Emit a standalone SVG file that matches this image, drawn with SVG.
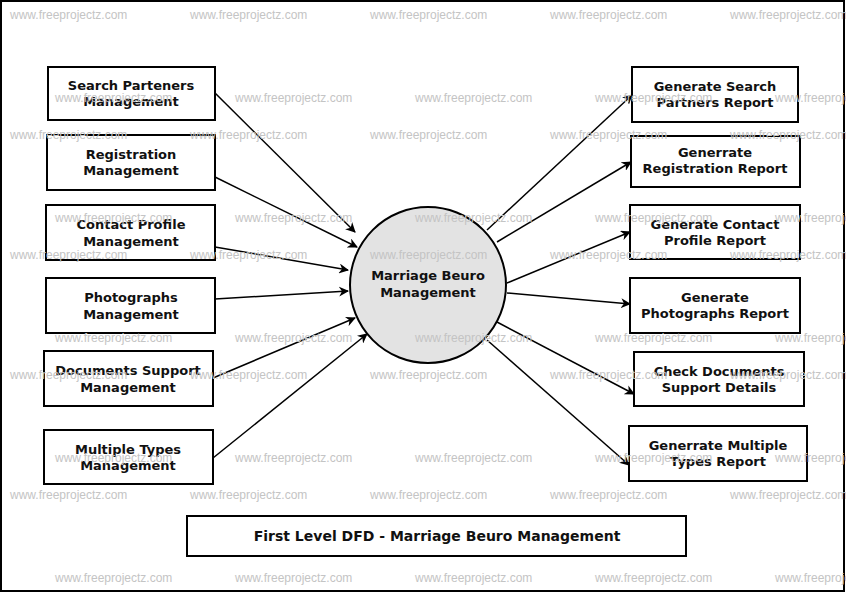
<svg xmlns="http://www.w3.org/2000/svg" width="846" height="593" viewBox="0 0 846 593">
<style>
.b{fill:#fff;stroke:#000;stroke-width:2}
.t{font-family:"DejaVu Sans",sans-serif;font-weight:bold;font-size:13px;text-anchor:middle;fill:#111}
.c line{stroke:#000;stroke-width:1.5;marker-end:url(#a)}
.w{font-family:"Liberation Sans",Arial,sans-serif;font-size:12px;fill:#c4c4c4}
</style>
<defs><marker id="a" viewBox="0 0 10 10" refX="9" refY="5" markerWidth="10" markerHeight="10" markerUnits="userSpaceOnUse" orient="auto"><path d="M0,0L10,5L0,10L3,5z" fill="#000"/></marker></defs>
<rect x="0" y="0" width="846" height="593" fill="#fff"/>
<rect x="1" y="1" width="843" height="590" fill="none" stroke="#000" stroke-width="2"/>
<g class="c">
<line x1="215" y1="93" x2="355" y2="232"/>
<line x1="215" y1="177" x2="357" y2="247"/>
<line x1="215" y1="247" x2="348" y2="270"/>
<line x1="215" y1="299" x2="348" y2="291"/>
<line x1="213" y1="378" x2="355" y2="318"/>
<line x1="213" y1="458" x2="367" y2="334"/>
<line x1="487" y1="230" x2="632" y2="95"/>
<line x1="497" y1="242" x2="631" y2="162"/>
<line x1="507" y1="283" x2="630" y2="232"/>
<line x1="507" y1="293" x2="630" y2="304"/>
<line x1="497" y1="322" x2="634" y2="394"/>
<line x1="487" y1="340" x2="629" y2="465"/>
</g>
<g id="center"><circle cx="428" cy="285" r="78" fill="#e3e3e3" stroke="#000" stroke-width="2"/><text class="t" x="428" y="280">Marriage Beuro</text><text class="t" x="428" y="297">Management</text></g>
<g id="l1"><rect class="b" x="48" y="67" width="167" height="53"/><text class="t" x="131" y="90">Search Parteners</text><text class="t" x="131" y="106">Management</text></g>
<g id="l2"><rect class="b" x="47" y="135" width="168" height="55"/><text class="t" x="131" y="159">Registration</text><text class="t" x="131" y="175">Management</text></g>
<g id="l3"><rect class="b" x="46" y="205" width="169" height="55"/><text class="t" x="131" y="229">Contact Profile</text><text class="t" x="131" y="246">Management</text></g>
<g id="l4"><rect class="b" x="46" y="278" width="169" height="55"/><text class="t" x="131" y="302">Photographs</text><text class="t" x="131" y="319">Management</text></g>
<g id="l5"><rect class="b" x="44" y="351" width="169" height="55"/><text class="t" x="128" y="375">Documents Support</text><text class="t" x="128" y="392">Management</text></g>
<g id="l6"><rect class="b" x="44" y="430" width="169" height="54"/><text class="t" x="128" y="454">Multiple Types</text><text class="t" x="128" y="470">Management</text></g>
<g id="r1"><rect class="b" x="632" y="67" width="166" height="55"/><text class="t" x="715" y="91">Generate Search</text><text class="t" x="715" y="107">Partners Report</text></g>
<g id="r2"><rect class="b" x="631" y="136" width="169" height="51"/><text class="t" x="715" y="157">Generrate</text><text class="t" x="715" y="173">Registration Report</text></g>
<g id="r3"><rect class="b" x="630" y="205" width="170" height="54"/><text class="t" x="715" y="229">Generate Contact</text><text class="t" x="715" y="245">Profile Report</text></g>
<g id="r4"><rect class="b" x="630" y="278" width="170" height="55"/><text class="t" x="715" y="302">Generate</text><text class="t" x="715" y="318">Photographs Report</text></g>
<g id="r5"><rect class="b" x="634" y="352" width="170" height="54"/><text class="t" x="719" y="376">Check Documents</text><text class="t" x="719" y="392">Support Details</text></g>
<g id="r6"><rect class="b" x="629" y="426" width="178" height="55"/><text class="t" x="718" y="450">Generrate Multiple</text><text class="t" x="718" y="466">Types Report</text></g>
<g id="title"><rect class="b" x="187" y="516" width="499" height="40"/><text class="t" x="437" y="541" style="font-size:14px">First Level DFD - Marriage Beuro Management</text></g>
<g class="w">
<text x="10" y="19">www.freeprojectz.com</text><text x="190" y="19">www.freeprojectz.com</text><text x="370" y="19">www.freeprojectz.com</text><text x="550" y="19">www.freeprojectz.com</text><text x="730" y="19">www.freeprojectz.com</text>
<text x="55" y="102">www.freeprojectz.com</text><text x="235" y="102">www.freeprojectz.com</text><text x="415" y="102">www.freeprojectz.com</text><text x="595" y="102">www.freeprojectz.com</text><text x="775" y="102">www.freeprojectz.com</text>
<text x="10" y="139">www.freeprojectz.com</text><text x="190" y="139">www.freeprojectz.com</text><text x="370" y="139">www.freeprojectz.com</text><text x="550" y="139">www.freeprojectz.com</text><text x="730" y="139">www.freeprojectz.com</text>
<text x="55" y="222">www.freeprojectz.com</text><text x="235" y="222">www.freeprojectz.com</text><text x="415" y="222">www.freeprojectz.com</text><text x="595" y="222">www.freeprojectz.com</text><text x="775" y="222">www.freeprojectz.com</text>
<text x="10" y="259">www.freeprojectz.com</text><text x="190" y="259">www.freeprojectz.com</text><text x="370" y="259">www.freeprojectz.com</text><text x="550" y="259">www.freeprojectz.com</text><text x="730" y="259">www.freeprojectz.com</text>
<text x="55" y="342">www.freeprojectz.com</text><text x="235" y="342">www.freeprojectz.com</text><text x="415" y="342">www.freeprojectz.com</text><text x="595" y="342">www.freeprojectz.com</text><text x="775" y="342">www.freeprojectz.com</text>
<text x="10" y="379">www.freeprojectz.com</text><text x="190" y="379">www.freeprojectz.com</text><text x="370" y="379">www.freeprojectz.com</text><text x="550" y="379">www.freeprojectz.com</text><text x="730" y="379">www.freeprojectz.com</text>
<text x="55" y="462">www.freeprojectz.com</text><text x="235" y="462">www.freeprojectz.com</text><text x="415" y="462">www.freeprojectz.com</text><text x="595" y="462">www.freeprojectz.com</text><text x="775" y="462">www.freeprojectz.com</text>
<text x="10" y="499">www.freeprojectz.com</text><text x="190" y="499">www.freeprojectz.com</text><text x="370" y="499">www.freeprojectz.com</text><text x="550" y="499">www.freeprojectz.com</text><text x="730" y="499">www.freeprojectz.com</text>
<text x="55" y="582">www.freeprojectz.com</text><text x="235" y="582">www.freeprojectz.com</text><text x="415" y="582">www.freeprojectz.com</text><text x="595" y="582">www.freeprojectz.com</text><text x="775" y="582">www.freeprojectz.com</text>
</g>
</svg>
